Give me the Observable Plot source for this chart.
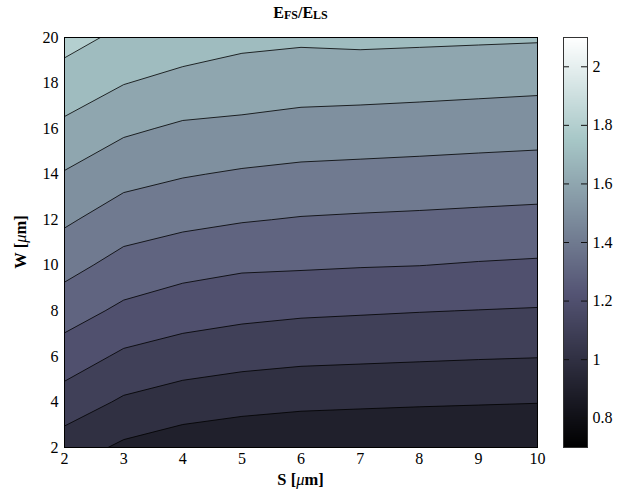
<!DOCTYPE html>
<html><head><meta charset="utf-8">
<script src="https://cdn.jsdelivr.net/npm/d3@7"></script>
<script src="https://cdn.jsdelivr.net/npm/@observablehq/plot@0.6"></script>
<style>
body{margin:0;background:#fff;}
#wrap{position:relative;width:635px;height:495px;font-family:"Liberation Serif",serif;color:#000;}
#wrap svg{position:absolute;top:0;}
.lbl{position:absolute;font-weight:bold;font-size:16.5px;white-space:nowrap;line-height:18px;}
.sc{font-size:12px;position:relative;top:1px;}
.mu{font-style:italic;font-weight:normal;}
</style></head><body><div id="wrap"></div>
<script>
// S [µm] columns and W [µm] rows of the E_FS/E_LS grid
const S = [2, 3, 4, 5, 6, 7, 8, 9, 10];
const W = [2, 4, 6, 8, 10, 12, 14, 16, 18, 20];
// values per W row, S = 2..10
const w2  = [1.050, 0.982, 0.947, 0.929, 0.918, 0.912, 0.908, 0.905, 0.902];
const w4  = [1.156, 1.086, 1.052, 1.033, 1.021, 1.016, 1.011, 1.007, 1.003];
const w6  = [1.253, 1.183, 1.153, 1.134, 1.122, 1.117, 1.112, 1.107, 1.103];
const w8  = [1.344, 1.280, 1.246, 1.227, 1.215, 1.209, 1.203, 1.198, 1.193];
const w10 = [1.433, 1.365, 1.335, 1.315, 1.311, 1.305, 1.301, 1.293, 1.287];
const w12 = [1.515, 1.450, 1.424, 1.406, 1.394, 1.388, 1.383, 1.377, 1.371];
const w14 = [1.593, 1.534, 1.507, 1.489, 1.477, 1.472, 1.467, 1.461, 1.456];
const w16 = [1.679, 1.616, 1.585, 1.577, 1.563, 1.557, 1.551, 1.545, 1.539];
const w18 = [1.758, 1.703, 1.669, 1.653, 1.642, 1.640, 1.635, 1.629, 1.623];
const w20 = [1.834, 1.778, 1.755, 1.725, 1.716, 1.722, 1.718, 1.714, 1.710];
const levels = [0.9, 1.0, 1.1, 1.2, 1.3, 1.4, 1.5, 1.6, 1.7, 1.8];
const xTicks = [2, 3, 4, 5, 6, 7, 8, 9, 10];
const yTicks = [2, 4, 6, 8, 10, 12, 14, 16, 18, 20];
const cTicks = [0.8, 1, 1.2, 1.4, 1.6, 1.8, 2];
const cLimits = [0.7, 2.1];
// MATLAB "bone" colormap stops
const boneDomain = [0.7, 1.225, 1.75, 2.1];
const boneRange = ["#000000", "rgb(84,84,116)", "rgb(167,199,199)", "#ffffff"];

const grid = [w2, w4, w6, w8, w10, w12, w14, w16, w18, w20].flat();
const colorScale = {type: "linear", domain: boneDomain, range: boneRange, interpolate: "rgb"};
const font = {fontFamily: "Liberation Serif", fontSize: "16px", background: "transparent", color: "#000"};

const main = Plot.plot({
  width: 635, height: 495,
  marginLeft: 64, marginRight: 98, marginTop: 37, marginBottom: 48,
  style: font,
  x: {domain: [S[0], S[S.length - 1]], ticks: xTicks, tickSize: 0, tickPadding: 5, label: null},
  y: {domain: [W[0], W[W.length - 1]], ticks: yTicks, tickSize: 0, tickPadding: 6, label: null},
  color: colorScale,
  marks: [
    Plot.contour(grid, {
      width: S.length, height: W.length,
      x1: S[0] - 0.5, x2: S[S.length - 1] + 0.5,
      y1: W[0] - 1, y2: W[W.length - 1] + 1,
      thresholds: levels, fill: Plot.identity, stroke: "black", strokeWidth: 0.8, clip: true
    }),
    Plot.frame({stroke: "black"})
  ]
});

const cbar = Plot.plot({
  width: 82, height: 495,
  marginLeft: 10, marginRight: 48, marginTop: 37, marginBottom: 48,
  style: font,
  x: {domain: [0, 1], axis: null},
  y: {domain: cLimits, ticks: cTicks, tickFormat: d => String(d), tickSize: 0, tickPadding: 5, axis: "right", label: null},
  color: colorScale,
  marks: [
    Plot.raster({fill: (x, y) => y, x1: 0, x2: 1, y1: cLimits[0], y2: cLimits[1], pixelSize: 1}),
    Plot.tickY(cTicks, {y: d => d, stroke: "#111", insetRight: 18}),
    Plot.tickY(cTicks, {y: d => d, stroke: "#111", insetLeft: 18}),
    Plot.frame({stroke: "#333"})
  ]
});

const wrap = document.getElementById("wrap");
main.style.left = "0px";
cbar.style.left = "553px";
wrap.appendChild(main);
wrap.appendChild(cbar);

function addLabel(html, style) {
  const d = document.createElement("div");
  d.className = "lbl";
  d.innerHTML = html;
  Object.assign(d.style, style);
  wrap.appendChild(d);
}
addLabel('E<span class="sc">FS</span>/E<span class="sc">LS</span>', {left: "0px", width: "601px", textAlign: "center", top: "4px", fontSize: "16px"});
addLabel('S [<span class="mu">μ</span>m]', {left: "0px", width: "601px", textAlign: "center", top: "471px"});
addLabel('W [<span class="mu">μ</span>m]', {left: "21px", top: "242px", transform: "translate(-50%,-50%) rotate(-90deg)"});
</script>
</body></html>
